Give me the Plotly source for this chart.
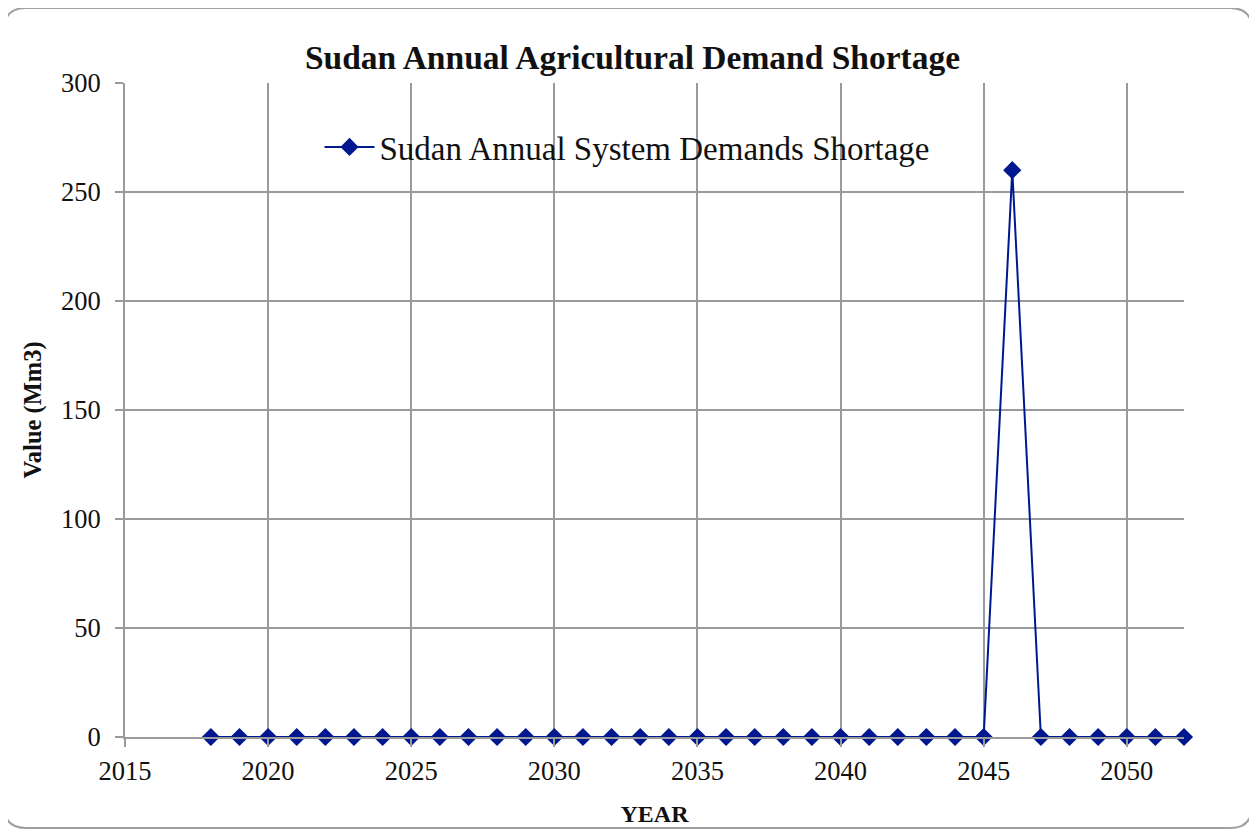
import plotly.graph_objects as go

# data
years = list(range(2018, 2053))
shortage = [0] * len(years)
shortage[years.index(2046)] = 260

series_name = "Sudan Annual System Demands Shortage"
chart_title = "Sudan Annual Agricultural Demand Shortage"

FONT = "Liberation Serif"
GRID = "#9a9a9a"
NAVY = "#00188f"

fig = go.Figure()

fig.add_trace(go.Scatter(
    x=years, y=shortage,
    mode="lines+markers",
    name=series_name,
    line=dict(color=NAVY, width=2),
    marker=dict(symbol="diamond", size=14, color=NAVY),
    cliponaxis=False,
))

# page body adds an 8px offset, so the figure is drawn 8px smaller
OFF = 8
W, H = 1257 - OFF, 830 - OFF
# plot area in reference-screen pixels
PL, PR, PT, PB = 125, 1184, 83, 737
pw, ph = PR - PL, PB - PT


def px(x):
    return (x - PL) / pw


def py(y):
    return (PB - y) / ph


# rounded outer border of the chart
x0, x1, y0, y1 = px(4), px(1252), py(828), py(8)
rx, ry = 22 / pw, 22 / ph
path = (f"M {x0 + rx},{y1} L {x1 - rx},{y1} Q {x1},{y1} {x1},{y1 - ry} "
        f"L {x1},{y0 + ry} Q {x1},{y0} {x1 - rx},{y0} "
        f"L {x0 + rx},{y0} Q {x0},{y0} {x0},{y0 + ry} "
        f"L {x0},{y1 - ry} Q {x0},{y1} {x0 + rx},{y1} Z")

fig.update_layout(
    width=W, height=H,
    margin=dict(l=PL - OFF, r=W - (PR - OFF), t=PT - OFF, b=H - (PB - OFF)),
    paper_bgcolor="white",
    plot_bgcolor="white",
    font=dict(family=FONT, size=26, color="#111111"),
    title=dict(text="<b>" + chart_title + "</b>", x=0.5, xanchor="center",
               y=1 - (57 - OFF) / H, yanchor="middle", font=dict(size=33.5),
               automargin=False),
    legend=dict(x=px(627), y=py(147), xanchor="center", yanchor="middle",
                orientation="h", font=dict(size=33), itemwidth=50,
                bgcolor="rgba(0,0,0,0)"),
    showlegend=True,
    shapes=[dict(type="path", xref="paper", yref="paper", path=path,
                 line=dict(color="#a0a0a0", width=2), layer="below")],
    xaxis=dict(
        range=[2015, 2052], tick0=2015, dtick=5, automargin=False,
        showgrid=True, gridcolor=GRID, gridwidth=2,
        showline=True, linecolor=GRID, linewidth=2,
        ticks="outside", ticklen=8, tickcolor=GRID, tickwidth=2,
        zeroline=False, ticklabelstandoff=1,
        tickfont=dict(size=26.5),
        title=dict(text="<b>YEAR</b>", font=dict(size=24), standoff=20),
    ),
    yaxis=dict(
        range=[0, 300], dtick=50, automargin=False,
        showgrid=True, gridcolor=GRID, gridwidth=2,
        showline=True, linecolor=GRID, linewidth=2,
        ticks="outside", ticklen=8, tickcolor=GRID, tickwidth=2,
        zeroline=False, ticklabelstandoff=9,
        tickfont=dict(size=26.5),
        title=dict(text="<b>Value (Mm3)</b>", font=dict(size=24.5), standoff=12),
    ),
)

fig.write_html("out.html")
